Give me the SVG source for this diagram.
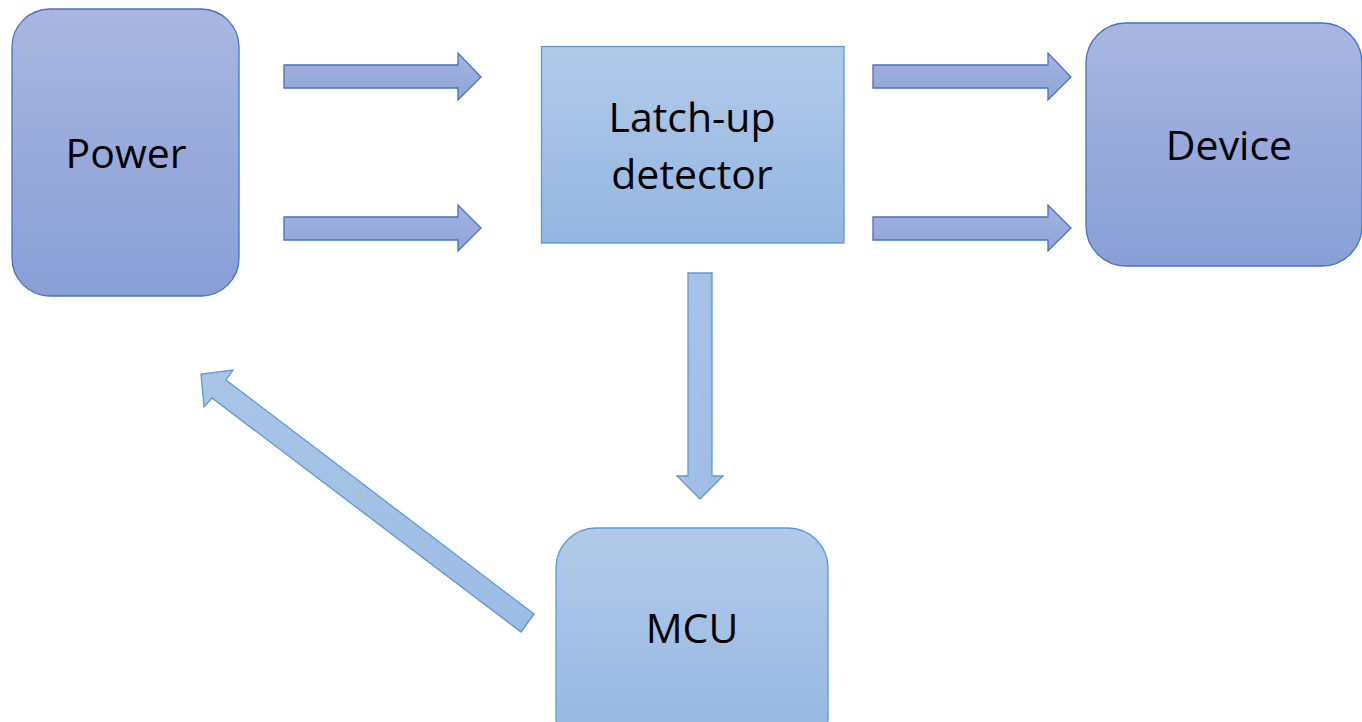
<svg xmlns="http://www.w3.org/2000/svg" width="1362" height="722" viewBox="0 0 1362 722">
<defs>
<linearGradient id="gPurple" x1="0" y1="0" x2="0" y2="1">
<stop offset="0" stop-color="#A9B6E0"/>
<stop offset="1" stop-color="#889FD6"/>
</linearGradient>
<linearGradient id="gBlue" x1="0" y1="0" x2="0" y2="1">
<stop offset="0" stop-color="#B1CAE9"/>
<stop offset="1" stop-color="#94B6E1"/>
</linearGradient>
<linearGradient id="gArrowP" x1="0" y1="0" x2="0" y2="1">
<stop offset="0" stop-color="#A4B3DF"/>
<stop offset="1" stop-color="#8FA4D8"/>
</linearGradient>
<linearGradient id="gArrowB" x1="0" y1="0" x2="1" y2="1">
<stop offset="0" stop-color="#A9C4E7"/>
<stop offset="1" stop-color="#9DBCE4"/>
</linearGradient>
</defs>
<style>
.txt{font-family:"Open Sans","Liberation Sans",sans-serif;font-size:41px;fill:#000;text-anchor:middle}
.nodeP{fill:url(#gPurple);stroke:#4472C4;stroke-width:1.3}
.nodeB{fill:url(#gBlue);stroke:#5B9BD5;stroke-width:1.3}
.arrP{fill:url(#gArrowP);stroke:#4472C4;stroke-width:1.3;stroke-linejoin:miter}
.arrB{fill:url(#gArrowB);stroke:#5B9BD5;stroke-width:1.3;stroke-linejoin:miter}
</style>
<rect width="1362" height="722" fill="#FFFFFF"/>
<g id="connectors">
<polygon class="arrP" points="284,65 458,65 458,53 481,77 458,100 458,88 284,88"/>
<polygon class="arrP" points="284,217 458,217 458,205 481,228 458,251 458,240 284,240"/>
<polygon class="arrP" points="873,65 1048,65 1048,53 1071,77 1048,100 1048,88 873,88"/>
<polygon class="arrP" points="873,217 1048,217 1048,205 1071,228 1048,251 1048,240 873,240"/>
<polygon class="arrB" points="688,273 712,273 712,476 723,476 700,499 677,476 688,476"/>
<polygon class="arrB" points="534,614 521,632 212,398 204,407 201,374 233,370 226,380"/>
</g>
<g id="power">
<rect class="nodeP" x="12" y="9" width="227" height="287" rx="38" ry="38"/>
<text class="txt" x="126" y="168">Power</text>
</g>
<g id="latchup">
<rect class="nodeB" x="541.5" y="46.5" width="302.5" height="196.5"/>
<text class="txt" x="692" y="132">Latch-up</text>
<text class="txt" x="692" y="189">detector</text>
</g>
<g id="device">
<rect class="nodeP" x="1086" y="23" width="276" height="243" rx="40" ry="40"/>
<text class="txt" x="1229" y="160">Device</text>
</g>
<g id="mcu">
<rect class="nodeB" x="556" y="528" width="272" height="230" rx="40" ry="40"/>
<text class="txt" x="692" y="643">MCU</text>
</g>
</svg>
